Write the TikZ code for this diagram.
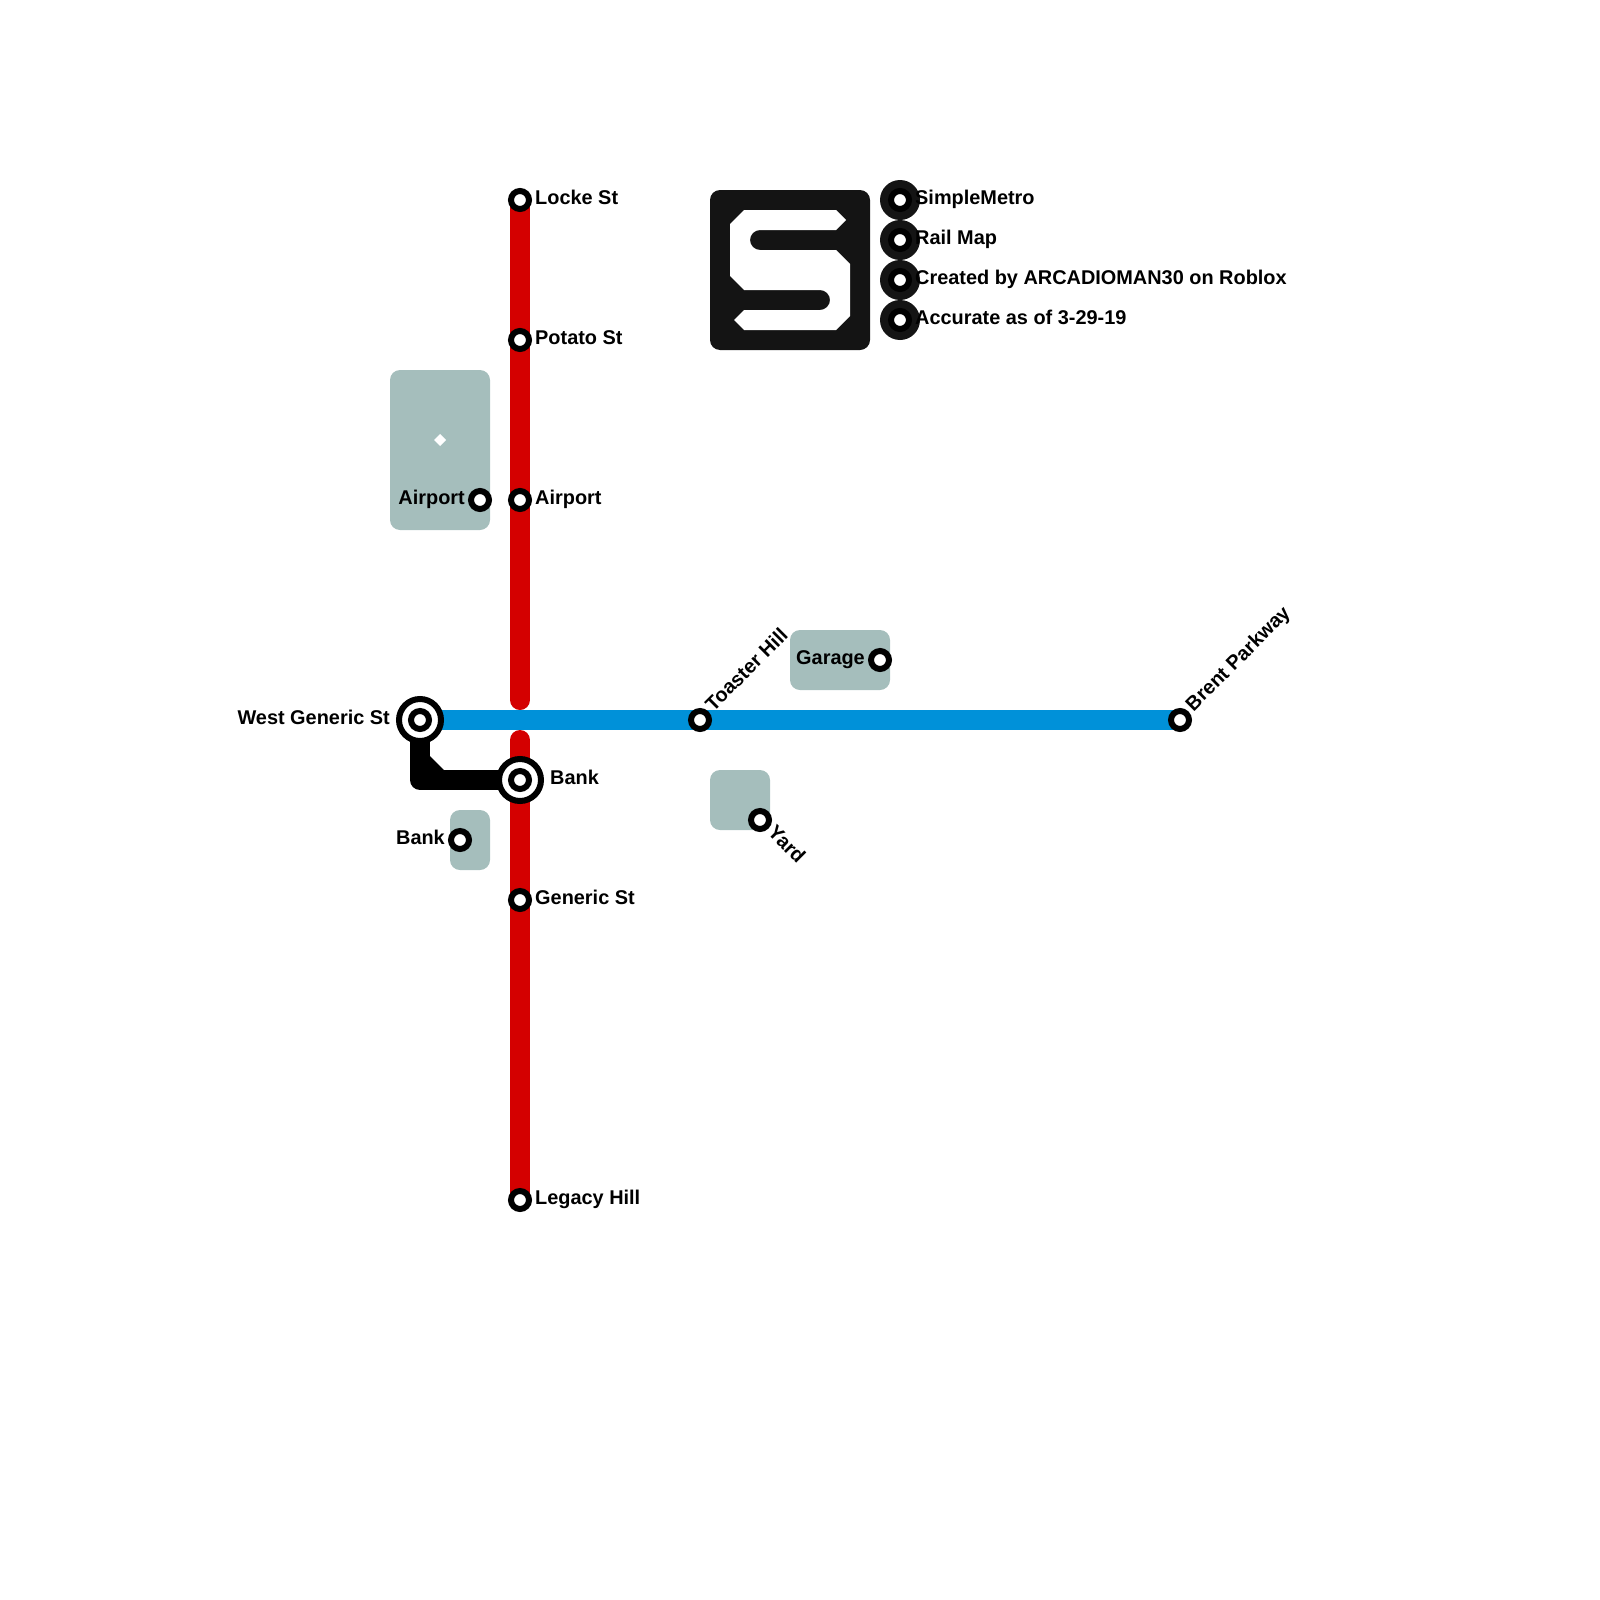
\documentclass[tikz,border=0pt]{standalone}
\usepackage{fontspec}
\setmainfont{Liberation Sans}
\usetikzlibrary{backgrounds}
\definecolor{redline}{HTML}{D40000}
\definecolor{blueline}{HTML}{0091D9}
\definecolor{landgray}{HTML}{A5BEBC}
\definecolor{logoblack}{HTML}{141414}
\tikzset{
  stn/.style={circle,draw=black,fill=white,line width=6pt,minimum size=18pt,inner sep=0pt},
  bigstn/.style={circle,draw=black,fill=white,line width=6pt,minimum size=42pt,inner sep=0pt},
  lgd/.style={circle,fill=logoblack,minimum size=40pt,inner sep=0pt},
  lab/.style={font=\fontsize{19.9}{24}\selectfont\bfseries,text=black,inner sep=0pt},
  land/.style={fill=landgray,rounded corners=10pt,draw=none},
  rail/.style={line width=20pt,line cap=round}
}
\begin{document}
\begin{tikzpicture}[x=1pt,y=-1pt]
\useasboundingbox (0,0) rectangle (1600,1600);
% stations
\node[bigstn] (west) at (420,720) {};
\node[stn] (westin) at (420,720) {};
\node[bigstn] (bank) at (520,780) {};
\node[stn] (bankin) at (520,780) {};
\node[stn] (locke) at (520,200) {};
\node[stn] (potato) at (520,340) {};
\node[stn] (airR) at (520,500) {};
\node[stn] (airL) at (480,500) {};
\node[stn] (bankS) at (460,840) {};
\node[stn] (generic) at (520,900) {};
\node[stn] (legacy) at (520,1200) {};
\node[stn] (toaster) at (700,720) {};
\node[stn] (brent) at (1180,720) {};
\node[stn] (garage) at (880,660) {};
\node[stn] (yard) at (760,820) {};
\coordinate (gapA) at (520,700);
\coordinate (gapB) at (520,740);
\coordinate (elbow) at (420,780);
\begin{scope}[on background layer]
  \fill[land] (390,370) rectangle (490,530);
  \fill[land] (450,810) rectangle (490,870);
  \fill[land] (790,630) rectangle (890,690);
  \fill[land] (710,770) rectangle (770,830);
  \draw[rail,redline] (locke.center) -- (gapA);
  \draw[rail,redline] (gapB) -- (legacy.center);
  \draw[rail,blueline,line cap=butt] (west.center) -- (brent.center);
  \draw[rail,black,line cap=butt,line join=round] (west.center) -- (elbow) -- (bank.center);
  \fill[black] (430,756) -- (444,770) -- (430,770) -- cycle;
\end{scope}
\fill[white] (440,434) -- (446,440) -- (440,446) -- (434,440) -- cycle;
% logo
\node[fill=logoblack,rounded corners=10pt,minimum size=160pt,inner sep=0pt] (logo) at (790,270) {};
\fill[white] (744,210) -- (836,210) -- (846,220) -- (836,230) -- (760,230) arc (90:270:10pt)
  -- (836,250) -- (850,264) -- (850,316) -- (836,330) -- (744,330) -- (734,320) -- (744,310)
  -- (820,310) arc (-90:90:10pt) -- (744,290) -- (730,276) -- (730,224) -- cycle;
\foreach \n/\y in {a/200,b/240,c/280,d/320}{
  \node[lgd] (lg\n) at (900,\y) {};
  \node[stn] (ls\n) at (900,\y) {};
}
% labels
\node[lab,anchor=base west] (tlocke) at (535,204.7) {Locke St};
\node[lab,anchor=base west] (tpotato) at (535,344.7) {Potato St};
\node[lab,anchor=base west] (tairR) at (535,504.7) {Airport};
\node[lab,anchor=base east] (tairL) at (465,504.7) {Airport};
\node[lab,anchor=base west] (tbank) at (550,784.7) {Bank};
\node[lab,anchor=base east] (tbankS) at (445,844.7) {Bank};
\node[lab,anchor=base west] (tgeneric) at (535,904.7) {Generic St};
\node[lab,anchor=base west] (tlegacy) at (535,1204.7) {Legacy Hill};
\node[lab,anchor=base east] (twest) at (390,724.4) {West Generic St};
\node[lab,anchor=base east] (tgarage) at (865,664.4) {Garage};
\node[lab,anchor=base west,rotate=45] (ttoaster) at (713.4,712.2) {Toaster Hill};
\node[lab,anchor=base west,rotate=45] (tbrent) at (1193.4,712.2) {Brent Parkway};
\node[lab,anchor=base west,rotate=-45] (tyard) at (766.6,833.6) {Yard};
\node[lab,anchor=base west] (t1) at (915,204.7) {SimpleMetro};
\node[lab,anchor=base west] (t2) at (915,244.7) {Rail Map};
\node[lab,anchor=base west] (t3) at (915,284.7) {Created by ARCADIOMAN30 on Roblox};
\node[lab,anchor=base west] (t4) at (915,324.7) {Accurate as of 3-29-19};
\end{tikzpicture}
\end{document}
